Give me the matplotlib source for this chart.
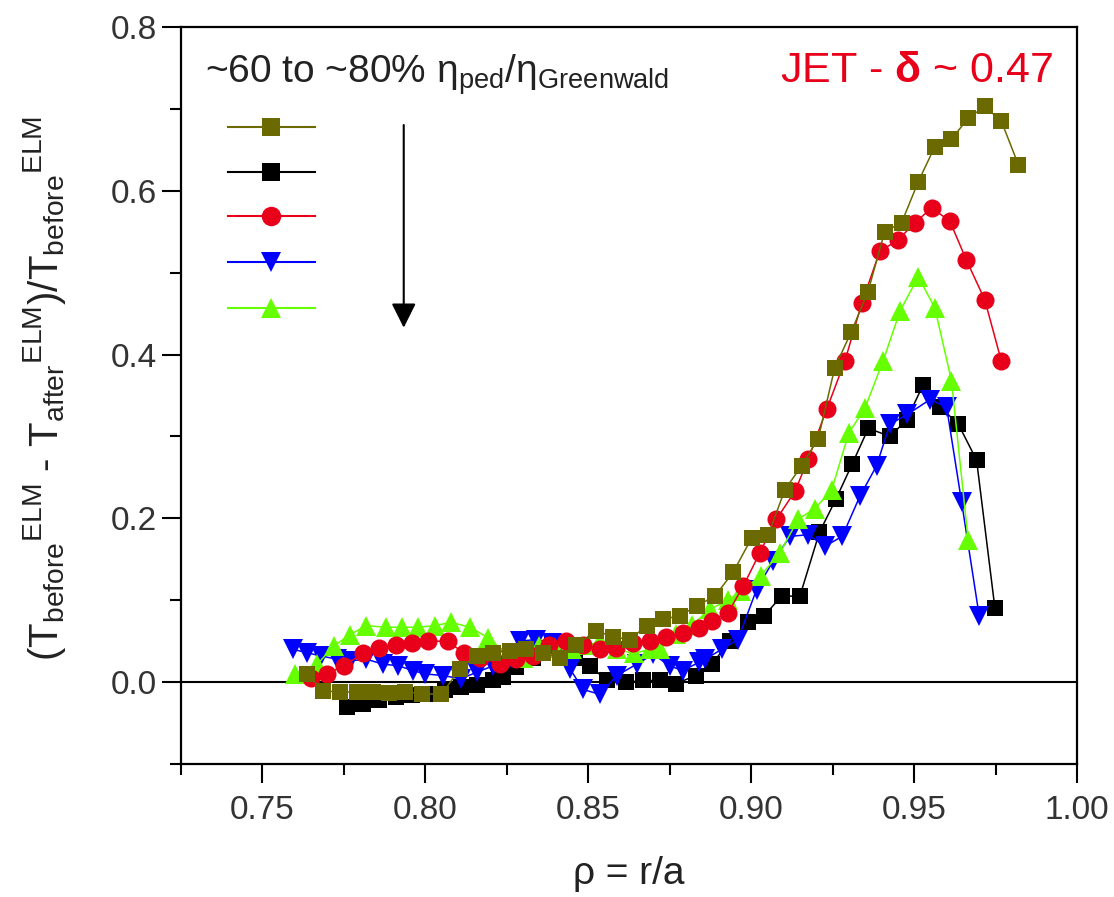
import matplotlib
matplotlib.use("Agg")
import matplotlib.pyplot as plt
from matplotlib.ticker import MultipleLocator

plt.rcParams['font.family'] = ['Liberation Sans', 'DejaVu Sans']
plt.rcParams['mathtext.fontset'] = 'custom'
plt.rcParams['mathtext.rm'] = 'Liberation Sans'
plt.rcParams['mathtext.it'] = 'Liberation Sans:italic'
plt.rcParams['mathtext.bf'] = 'Liberation Sans:bold'

# ---------------- data ----------------
olive_x = [0.7639, 0.7688, 0.7740, 0.7790, 0.7840, 0.7890, 0.7940, 0.7990, 0.8050, 0.8107,
           0.8158, 0.8209, 0.8260, 0.8311, 0.8362, 0.8413, 0.8464, 0.8526, 0.8577, 0.8628,
           0.8680, 0.8731, 0.8782, 0.8833, 0.8889, 0.8945, 0.9002, 0.9053, 0.9104, 0.9155,
           0.9206, 0.9257, 0.9308, 0.9359, 0.9410, 0.9462, 0.9513, 0.9564, 0.9615, 0.9667,
           0.9717, 0.9768, 0.9820]
olive_y = [0.010, -0.011, -0.012, -0.012, -0.012, -0.013, -0.012, -0.014, -0.015, 0.016,
           0.032, 0.036, 0.038, 0.040, 0.035, 0.030, 0.045, 0.063, 0.055, 0.052,
           0.069, 0.077, 0.081, 0.093, 0.105, 0.134, 0.176, 0.180, 0.235, 0.264,
           0.297, 0.384, 0.428, 0.477, 0.550, 0.561, 0.611, 0.654, 0.663, 0.689,
           0.703, 0.685, 0.632]

black_x = [0.7760, 0.7810, 0.7860, 0.7910, 0.7960, 0.8010, 0.8060, 0.8110, 0.8160, 0.8210,
           0.8240, 0.8280, 0.8330, 0.8390, 0.8460, 0.8506, 0.8557, 0.8618, 0.8670, 0.8720,
           0.8770, 0.8830, 0.8880, 0.8935, 0.8990, 0.9040, 0.9094, 0.9150, 0.9210, 0.9260,
           0.9310, 0.9360, 0.9426, 0.9477, 0.9528, 0.9580, 0.9636, 0.9692, 0.9748]
black_y = [-0.031, -0.027, -0.022, -0.018, -0.016, -0.014, -0.010, -0.006, -0.003, 0.002,
           0.006, 0.018, 0.030, 0.045, 0.030, 0.020, 0.002, 0.000, 0.002, 0.002,
           -0.002, 0.008, 0.022, 0.050, 0.073, 0.081, 0.105, 0.105, 0.183, 0.223,
           0.266, 0.310, 0.300, 0.320, 0.363, 0.336, 0.315, 0.271, 0.091]

red_x = [0.7650, 0.7700, 0.7750, 0.7810, 0.7860, 0.7910, 0.7960, 0.8010, 0.8070, 0.8120,
         0.8170, 0.8230, 0.8280, 0.8330, 0.8380, 0.8434, 0.8485, 0.8536, 0.8587, 0.8638,
         0.8690, 0.8740, 0.8790, 0.8840, 0.8880, 0.8930, 0.8976, 0.9027, 0.9078, 0.9135,
         0.9175, 0.9232, 0.9288, 0.9340, 0.9395, 0.9451, 0.9503, 0.9554, 0.9610, 0.9660,
         0.9717, 0.9768]
red_y = [0.005, 0.010, 0.020, 0.035, 0.042, 0.045, 0.048, 0.050, 0.050, 0.035,
         0.030, 0.022, 0.028, 0.032, 0.045, 0.050, 0.045, 0.040, 0.042, 0.048,
         0.050, 0.055, 0.060, 0.066, 0.075, 0.085, 0.117, 0.158, 0.199, 0.233,
         0.272, 0.333, 0.392, 0.463, 0.526, 0.540, 0.561, 0.579, 0.563, 0.516,
         0.467, 0.392]

blue_x = [0.7596, 0.7637, 0.7680, 0.7730, 0.7770, 0.7820, 0.7870, 0.7918, 0.7964, 0.8000,
          0.8056, 0.8110, 0.8158, 0.8210, 0.8260, 0.8290, 0.8340, 0.8390, 0.8445, 0.8485,
          0.8537, 0.8588, 0.8650, 0.8700, 0.8750, 0.8790, 0.8840, 0.8860, 0.8910, 0.8960,
          0.9017, 0.9068, 0.9120, 0.9175, 0.9227, 0.9280, 0.9334, 0.9385, 0.9426, 0.9480,
          0.9549, 0.9600, 0.9646, 0.9700]
blue_y = [0.040, 0.036, 0.032, 0.028, 0.026, 0.028, 0.022, 0.020, 0.014, 0.010,
          0.008, 0.004, 0.012, 0.020, 0.030, 0.050, 0.052, 0.048, 0.016, -0.009,
          -0.015, 0.008, 0.022, 0.034, 0.020, 0.014, 0.024, 0.028, 0.040, 0.052,
          0.113, 0.148, 0.178, 0.180, 0.166, 0.178, 0.227, 0.264, 0.315, 0.327,
          0.345, 0.336, 0.220, 0.081]

green_x = [0.7600, 0.7670, 0.7720, 0.7770, 0.7820, 0.7880, 0.7928, 0.7980, 0.8030, 0.8080,
           0.8138, 0.8194, 0.8250, 0.8300, 0.8350, 0.8400, 0.8450, 0.8500, 0.8537, 0.8588,
           0.8640, 0.8690, 0.8720, 0.8770, 0.8820, 0.8874, 0.8930, 0.8970, 0.9030, 0.9089,
           0.9145, 0.9196, 0.9247, 0.9300, 0.9350, 0.9405, 0.9457, 0.9513, 0.9564, 0.9615,
           0.9666]
green_y = [0.010, 0.022, 0.044, 0.058, 0.069, 0.067, 0.067, 0.067, 0.069, 0.073,
           0.067, 0.054, 0.035, 0.030, 0.044, 0.042, 0.040, 0.045, 0.050, 0.040,
           0.035, 0.040, 0.040, 0.059, 0.070, 0.089, 0.100, 0.111, 0.130, 0.158,
           0.199, 0.212, 0.234, 0.304, 0.335, 0.392, 0.453, 0.495, 0.457, 0.368,
           0.174]

x_ticks = [0.75, 0.80, 0.85, 0.90, 0.95, 1.00]
x_tick_labels = ['0.75', '0.80', '0.85', '0.90', '0.95', '1.00']
y_ticks = [0.0, 0.2, 0.4, 0.6, 0.8]
y_tick_labels = ['0.0', '0.2', '0.4', '0.6', '0.8']

# ---------------- styles ----------------
OLIVE = '#6b6a00'
RED = '#e8001a'
BLUE = '#0000ff'
GREEN = '#66ff00'
BLACK = '#000000'

series = [
    # (x, y, color, marker, size, zorder)
    (black_x, black_y, BLACK, 's', 12, 3),
    (blue_x, blue_y, BLUE, 'v', 14, 4),
    (green_x, green_y, GREEN, '^', 14, 5),
    (red_x, red_y, RED, 'o', 13, 6),
    (olive_x, olive_y, OLIVE, 's', 12, 7),
]

fig = plt.figure(figsize=(11.14, 8.97), dpi=100)
W, H = 1114, 897
ax = fig.add_axes([180.5 / W, 1 - 764 / H, 896.5 / W, 737 / H])

for x, y, c, m, ms, z in series:
    ax.plot(x, y, color=c, lw=1.1, marker=m, markersize=ms,
            markeredgewidth=0, markerfacecolor=c, zorder=z)

ax.axhline(0, color='black', lw=1.5, zorder=2)

ax.set_xlim(0.725, 1.0)
ax.set_ylim(-0.1, 0.8)
ax.set_xticks(x_ticks)
ax.set_xticklabels(x_tick_labels)
ax.set_yticks(y_ticks)
ax.set_yticklabels(y_tick_labels)
ax.xaxis.set_minor_locator(MultipleLocator(0.025))
ax.yaxis.set_minor_locator(MultipleLocator(0.1))
ax.tick_params(which='major', direction='out', length=14, width=1.5,
               labelsize=24, labelcolor='#333333', top=False, right=False)
ax.tick_params(which='minor', direction='out', length=8, width=1.5,
               top=False, right=False)
ax.tick_params(axis='x', which='major', pad=8)
ax.tick_params(axis='y', which='major', pad=3)
for s in ax.spines.values():
    s.set_linewidth(1.6)

ax.set_xlabel(r'ρ = r/a', fontsize=28, color='#222222', labelpad=22)
ax.set_ylabel(r'(T$_{\rm before}{}^{\rm ELM}$ - T$_{\rm after}{}^{\rm ELM}$)/T$_{\rm before}{}^{\rm ELM}$',
              fontsize=29, color='#222222')
ax.yaxis.set_label_coords(-0.125, 0.51)

# annotation texts
ax.text(0.027, 0.925, r'~60 to ~80% η$_{\rm ped}$/η$_{\rm Greenwald}$',
        transform=ax.transAxes, fontsize=28, color='#222222', va='baseline', ha='left')
ax.text(0.973, 0.925, r'JET - $\mathbf{δ}$ ~ 0.47',
        transform=ax.transAxes, fontsize=31, color=RED, va='baseline', ha='right')

# arrow
ax.annotate('', xy=(0.249, 0.592), xytext=(0.249, 0.867), xycoords='axes fraction',
            arrowprops=dict(arrowstyle='-|>,head_width=0.3,head_length=0.6',
                            mutation_scale=25, color='black', lw=1.5,
                            shrinkA=0, shrinkB=0))

# legend samples (no labels)
leg_rows = [0.864, 0.803, 0.744, 0.681, 0.619]
leg_order = [4, 0, 3, 1, 2]
for row, idx in zip(leg_rows, leg_order):
    _, _, c, m, ms, _ = series[idx]
    ax.plot([0.053, 0.150], [row, row], color=c, lw=1.5, transform=ax.transAxes,
            clip_on=False, zorder=8)
    ax.plot([0.1015], [row], color=c, marker=m, markersize=ms + 1, markeredgewidth=0,
            transform=ax.transAxes, clip_on=False, zorder=9)

fig.savefig('out.png', dpi=100)
